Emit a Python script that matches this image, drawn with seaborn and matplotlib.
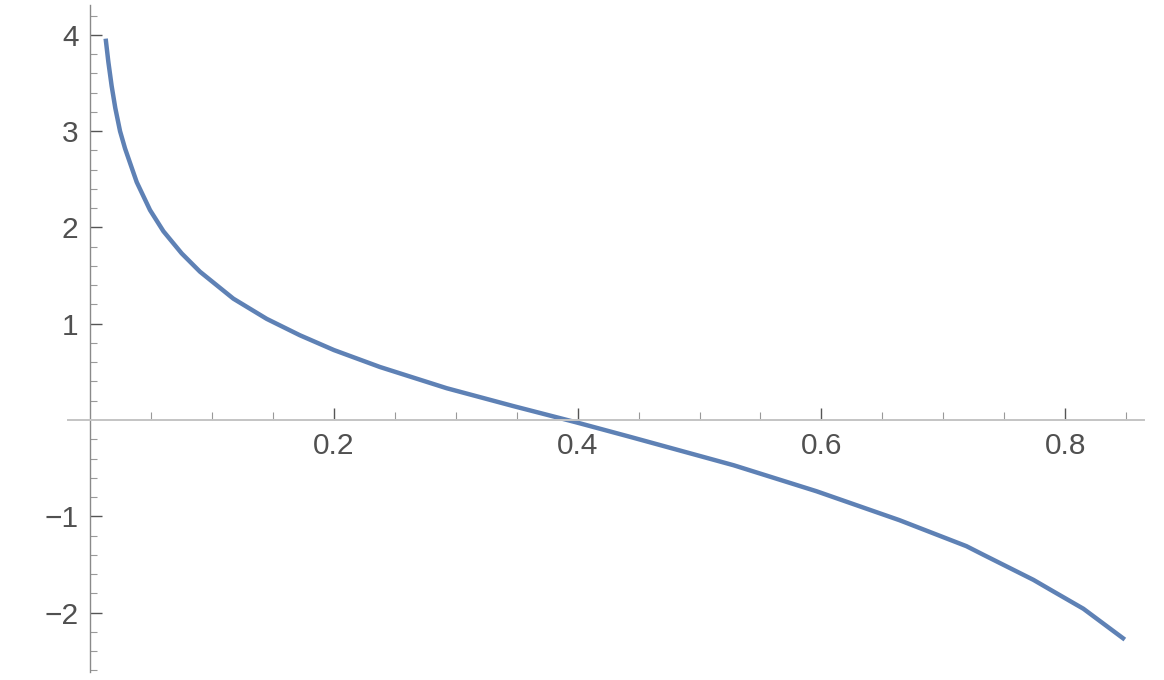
import numpy as np
import pandas as pd
import matplotlib
matplotlib.use("Agg")
import matplotlib.pyplot as plt
import seaborn as sns
from matplotlib.ticker import FixedLocator, FixedFormatter

# Values
x_vals = [0.0126, 0.0148, 0.0175, 0.0205, 0.0244, 0.0285, 0.0326, 0.0381,
          0.049, 0.060, 0.075, 0.090, 0.1174, 0.1448, 0.172, 0.200, 0.2378,
          0.2925, 0.347, 0.399, 0.443, 0.492, 0.528, 0.596, 0.664, 0.719,
          0.733, 0.774, 0.7876, 0.815, 0.849]
y_vals = [3.96, 3.72, 3.47, 3.24, 3.00, 2.82, 2.67, 2.47,
          2.18, 1.96, 1.73, 1.54, 1.26, 1.05, 0.88, 0.726, 0.55,
          0.33, 0.145, -0.025, -0.175, -0.345, -0.47, -0.74, -1.04, -1.31,
          -1.40, -1.66, -1.76, -1.96, -2.28]

x_major = [0.2, 0.4, 0.6, 0.8]
x_labels = ["0.2", "0.4", "0.6", "0.8"]
y_major = [-2, -1, 1, 2, 3, 4]
y_labels = ["\u22122", "\u22121", "1", "2", "3", "4"]

sns.set_theme(style="white")
plt.rcParams['font.family'] = ['Liberation Sans', 'DejaVu Sans']

fig = plt.figure(figsize=(11.64, 6.80), dpi=100)
ax = fig.add_axes([0, 0, 1, 1])
ax.patch.set_alpha(0)

df = pd.DataFrame({"x": x_vals, "y": y_vals})
sns.lineplot(data=df, x="x", y="y", sort=False, estimator=None,
             color="#5E81B5", linewidth=3.2, ax=ax)
for ln in ax.get_lines():
    ln.set_solid_joinstyle('round')
    ln.set_solid_capstyle('butt')

# pixel mapping: x=0 at 90.3px, 1218.5 px/unit ; y=0 at 420px, 96.3 px/unit
ax.set_xlim(-90.3 / 1218.5, (1164 - 90.3) / 1218.5)
ax.set_ylim(-(680 - 420) / 96.3, 420 / 96.3)

for s in ['top', 'right']:
    ax.spines[s].set_visible(False)
ax.spines['bottom'].set_position(('data', 0))
ax.spines['left'].set_position(('data', 0))
ax.spines['bottom'].set_bounds(-0.018, 0.865)
ax.spines['left'].set_bounds(-2.62, 4.31)
ax.spines['bottom'].set_color('#c4c4c4')
ax.spines['left'].set_color('#8a8a8a')
ax.spines['bottom'].set_linewidth(1.4)
ax.spines['left'].set_linewidth(1.0)

ax.xaxis.set_major_locator(FixedLocator(x_major))
ax.xaxis.set_major_formatter(FixedFormatter(x_labels))
x_minor = [round(0.05 * i, 2) for i in range(1, 18) if i % 4 != 0]
ax.xaxis.set_minor_locator(FixedLocator(x_minor))

ax.yaxis.set_major_locator(FixedLocator(y_major))
ax.yaxis.set_major_formatter(FixedFormatter(y_labels))
y_minor = [round(0.2 * i, 1) for i in range(-13, 22) if i % 5 != 0]
ax.yaxis.set_minor_locator(FixedLocator(y_minor))

ax.tick_params(axis='x', which='major', direction='in', length=8.5, width=1.0,
               color='#555555', labelsize=21.5, labelcolor='#505050', pad=9,
               bottom=True)
ax.tick_params(axis='x', which='minor', direction='in', length=5.5, width=0.8,
               color='#999999', bottom=True)
ax.tick_params(axis='y', which='major', direction='in', length=8.5, width=1.0,
               color='#555555', labelsize=21.5, labelcolor='#505050', pad=8.5,
               left=True)
ax.tick_params(axis='y', which='minor', direction='in', length=5.0, width=0.8,
               color='#999999', left=True)
ax.set_xlabel("")
ax.set_ylabel("")
ax.grid(False)

fig.savefig("out.png", dpi=100)
